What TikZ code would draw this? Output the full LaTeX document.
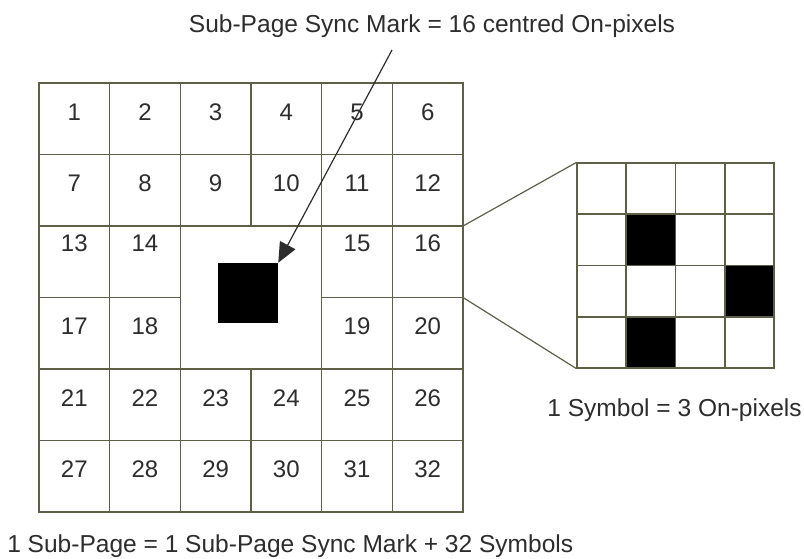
\documentclass[tikz,border=0pt]{standalone}
\usepackage{fontspec}
\setmainfont{Liberation Sans}
\usetikzlibrary{positioning,calc,arrows.meta}
\definecolor{gridline}{RGB}{95,95,72}
\definecolor{inktext}{RGB}{45,45,45}

\tikzset{
  cell/.style={draw=gridline, line width=0.9pt, minimum width=53pt, minimum height=53.6pt, inner sep=0pt, outer sep=0pt},
  num/.style={inner sep=0pt, text=inktext, font=\fontsize{18}{21}\selectfont},
  caption/.style={inner sep=0pt, text=inktext, font=\fontsize{18.4}{22}\selectfont},
  pixel/.style={fill=black, minimum width=36.9pt, minimum height=38.4pt, inner sep=0pt},
}

\begin{document}
\begin{tikzpicture}[x=0.75pt, y=-0.75pt]
\path[use as bounding box, fill=white] (0,0) rectangle (804,558);
% sub-page: 32 symbol cells round the sync mark
\foreach \row/\first in {0/1,1/7,4/21,5/27}
  \foreach \col in {0,...,5}{
    \pgfmathtruncatemacro\idx{\first+\col}
    \node[cell] (c\idx) at (74.33+70.67*\col, 118.75+71.5*\row) {};
    \node[num] at ($(c\idx.north)+(0,29)$) {\idx};
  }
\foreach \row/\first in {2/13,3/17}
  \foreach \col/\k in {0/0,1/1,4/2,5/3}{
    \pgfmathtruncatemacro\idx{\first+\k}
    \node[cell] (c\idx) at (74.33+70.67*\col, 118.75+71.5*\row) {};
    \node[num] at ($(c\idx.north)+(0,{17+12*(\row-2)})$) {\idx};
  }
\node[fill=black, minimum size=45pt, inner sep=0pt] (mark) at (248,293) {};

\node[caption, anchor=base] (title) at (432,32) {Sub-Page Sync Mark = 16 centred On-pixels};
\draw[line width=0.9pt, draw=inktext, -{Triangle[length=15pt, width=13pt]}] ($(title.base)+(-40,18)$) -- (mark.north east);

% one symbol, 4x4 pixels
\node[pixel] (p1) at (650.9,239.9) {};
\node[pixel] (p2) at (749.4,291.1) {};
\node[pixel] (p3) at (650.9,342.4) {};
\node[draw=gridline, line width=0.9pt, minimum width=147.75pt, minimum height=153.75pt, inner sep=0pt] (symbol) at (675.5,265.5) {};
\foreach \i in {1,2,3}{
  \draw[gridline, line width=0.9pt] ($(symbol.north west)!\i/4!(symbol.north east)$) -- ($(symbol.south west)!\i/4!(symbol.south east)$);
  \draw[gridline, line width=0.9pt] ($(symbol.north west)!\i/4!(symbol.south west)$) -- ($(symbol.north east)!\i/4!(symbol.south east)$);
}
\draw[gridline, line width=0.9pt] (c16.north east) -- (symbol.north west) (c16.south east) -- (symbol.south west);

\node[caption, anchor=base east] (symcap) at (802,416) {1 Symbol = 3 On-pixels};
\node[caption, anchor=base west] (pagecap) at (7,552) {1 Sub-Page = 1 Sub-Page Sync Mark + 32 Symbols};
\end{tikzpicture}
\end{document}
